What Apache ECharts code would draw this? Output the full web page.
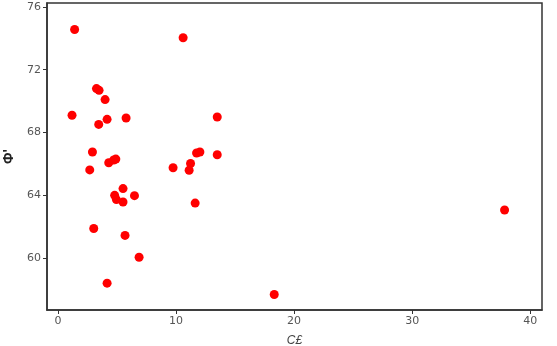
<!DOCTYPE html>
<html><head><meta charset="utf-8">
<script src="https://cdn.jsdelivr.net/npm/echarts@6/dist/echarts.min.js"></script>
<style>html,body{margin:0;padding:0;background:#fff}#c{width:557px;height:346px}</style>
</head><body><div id="c"></div>
<script>
const xValues = [1.41,10.6,3.26,3.48,3.99,1.19,4.16,3.45,5.77,13.49,2.92,11.74,12.02,13.49,4.3,4.72,4.9,2.69,9.75,11.23,11.11,5.51,4.8,4.95,5.51,6.48,11.62,3.03,5.68,6.87,4.16,18.32,37.83];
const yValues = [74.56,74.04,70.8,70.69,70.1,69.1,68.84,68.52,68.93,68.99,66.76,66.7,66.76,66.59,66.08,66.25,66.31,65.62,65.76,66.03,65.6,64.43,64.0,63.73,63.58,63.98,63.51,61.89,61.45,60.06,58.41,57.69,63.07];
const xTicks = [0,10,20,30,40];
const yTicks = [60,64,68,72,76];
const xName = 'C£';
const yName = "Φ'";

const data = xValues.map((x,i)=>[x,yValues[i]]);
const chart = echarts.init(document.getElementById('c'));
const lab = {color:'#555', fontSize:11, fontFamily:'DejaVu Sans'};
chart.setOption({
  animation:false,
  grid:{left:47,right:15,top:3,bottom:36,show:true,borderColor:'#333',borderWidth:1.5,outerBoundsMode:'none',containLabel:false},
  xAxis:{type:'value',min:-0.93,max:41,name:xName,nameLocation:'middle',nameGap:25,
    nameTextStyle:{color:'#444',fontSize:12,fontStyle:'italic'},
    splitLine:{show:false},
    axisLine:{show:true,onZero:false,lineStyle:{color:'#333',width:1.5}},
    axisTick:{show:true,length:4,customValues:xTicks,lineStyle:{color:'#333'}},
    axisLabel:Object.assign({customValues:xTicks,margin:6},lab)},
  yAxis:{type:'value',min:56.7,max:76.25,name:yName,nameLocation:'middle',nameGap:30,nameRotate:90,
    nameTextStyle:{color:'#222',fontSize:14,fontWeight:'bold'},
    splitLine:{show:false},
    axisLine:{show:true,onZero:false,lineStyle:{color:'#333',width:1.5}},
    axisTick:{show:true,length:4,customValues:yTicks,lineStyle:{color:'#333'}},
    axisLabel:Object.assign({customValues:yTicks,margin:6},lab)},
  series:[{type:'scatter',data:data,symbolSize:9,itemStyle:{color:'#ff0000',opacity:1}}]
});
</script></body></html>
